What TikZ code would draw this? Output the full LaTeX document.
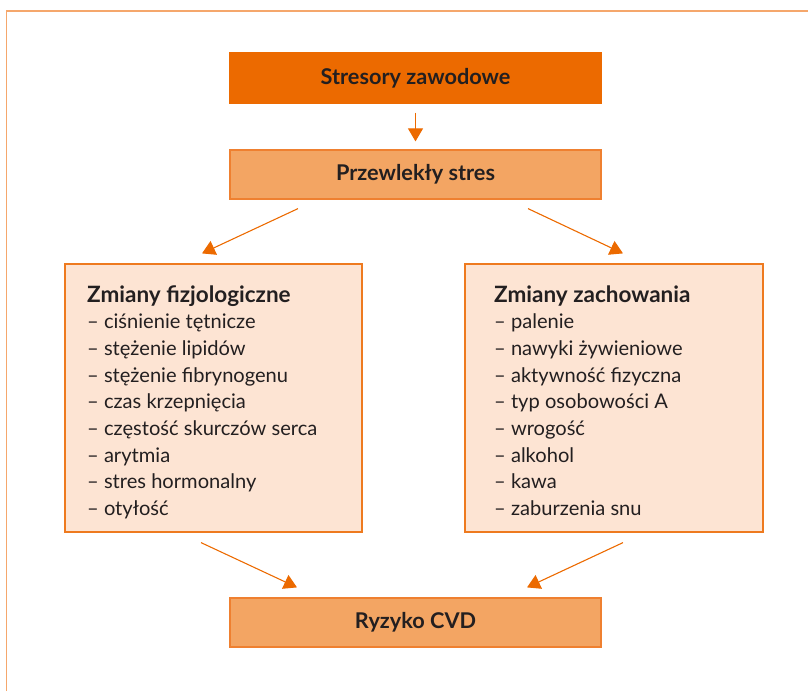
\documentclass[tikz,border=0pt]{standalone}
\usepackage{fontspec}
\setmainfont{Lato}
\usetikzlibrary{arrows.meta}
\definecolor{darkor}{HTML}{EC6A00}
\definecolor{midor}{HTML}{F3A563}
\definecolor{midedge}{HTML}{EF8030}
\definecolor{lightor}{HTML}{FDE4D3}
\definecolor{lightedge}{HTML}{EE7A1F}
\definecolor{framecol}{HTML}{F5A76C}
\definecolor{ink}{HTML}{231F20}
\tikzset{
  mainbox/.style={draw=midedge, fill=midor, line width=1.2pt, inner sep=0pt,
    minimum width=371pt, minimum height=49pt, text=ink,
    font=\fontsize{21.7}{24}\selectfont\bfseries},
  topbox/.style={mainbox, draw=darkor, fill=darkor, minimum height=50pt},
  listbox/.style={draw=lightedge, fill=lightor, line width=1.2pt, inner sep=0pt,
    minimum height=268pt},
  listtext/.style={anchor=base west, inner sep=0pt, text=ink,
    font=\fontsize{20.1}{26.7}\selectfont},
  arr/.style={draw=darkor, line width=1.1pt,
    -{Triangle[length=13pt,width=15pt]}, color=darkor},
}
\begin{document}
\begin{tikzpicture}[x=1pt,y=-1pt]
\useasboundingbox (0,0) rectangle (808,691);
% outer frame (top and left rules)
\draw[framecol, line width=1.6pt] (6.5,691) -- (6.5,11) -- (808,11);

% flow boxes
\node[topbox]  (stres) at (415.5,78)    {Stresory zawodowe};
\node[mainbox] (przew) at (415.5,174.5) {Przewlekły stres};
\node[listbox, minimum width=297pt] (fiz)  at (213.5,398) {};
\node[listbox, minimum width=298pt] (zach) at (614,398)   {};
\node[mainbox] (ryz)   at (415.5,622.5) {Ryzyko CVD};

% list contents
\node[listtext] (fiztxt) at (87,302) {\parbox[t]{270pt}{\raggedright
  {\bfseries\fontsize{22.5}{26.7}\selectfont Zmiany fizjologiczne}\\
  – ciśnienie tętnicze\\
  – stężenie lipidów\\
  – stężenie fibrynogenu\\
  – czas krzepnięcia\\
  – częstość skurczów serca\\
  – arytmia\\
  – stres hormonalny\\
  – otyłość}};
\node[listtext] (zachtxt) at (494,302) {\parbox[t]{260pt}{\raggedright
  {\bfseries\fontsize{22.5}{26.7}\selectfont Zmiany zachowania}\\
  – palenie\\
  – nawyki żywieniowe\\
  – aktywność fizyczna\\
  – typ osobowości A\\
  – wrogość\\
  – alkohol\\
  – kawa\\
  – zaburzenia snu}};

% connectors
\draw[arr] ([yshift=-9pt]stres.south) -- ([yshift=8pt]przew.north);
\draw[arr] ([xshift=-117.5pt,yshift=-9pt]przew.south) -- ([xshift=-11.5pt,yshift=10pt]fiz.north);
\draw[arr] ([xshift=112.5pt,yshift=-9pt]przew.south) -- ([xshift=9pt,yshift=10pt]zach.north);
\draw[arr] ([xshift=-12.5pt,yshift=-10pt]fiz.south) -- ([xshift=-118.5pt,yshift=10pt]ryz.north);
\draw[arr] ([xshift=9pt,yshift=-10pt]zach.south) -- ([xshift=111.5pt,yshift=10pt]ryz.north);
\end{tikzpicture}
\end{document}
